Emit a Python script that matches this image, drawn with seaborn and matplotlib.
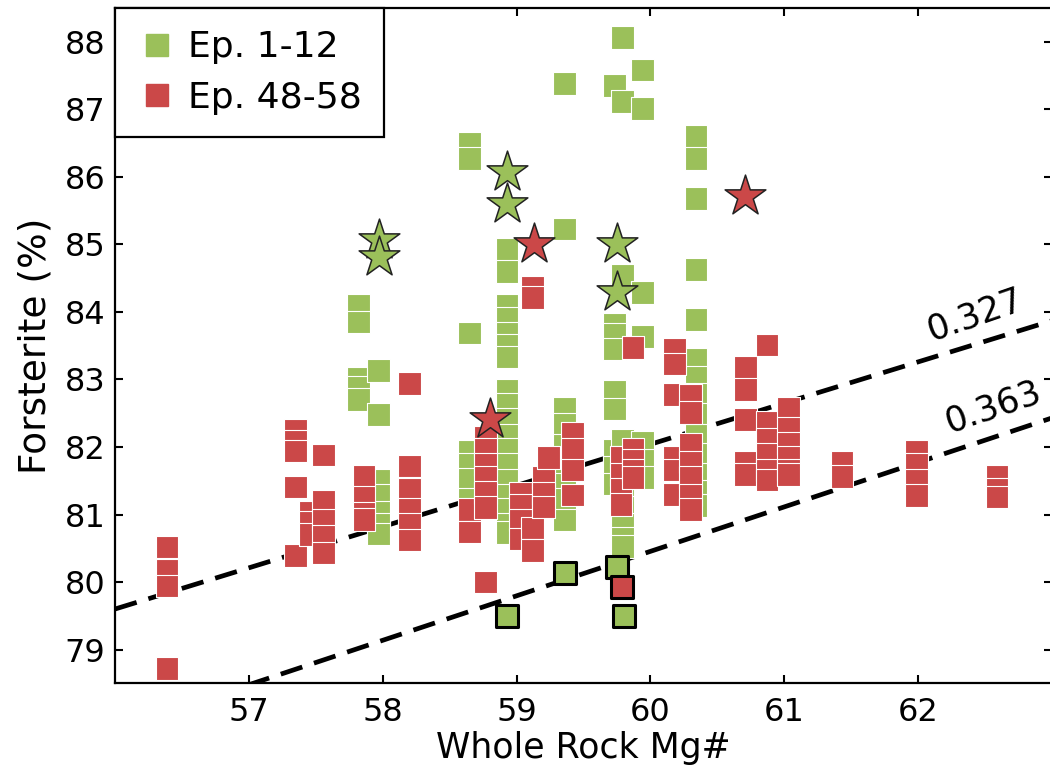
import numpy as np
import pandas as pd
import matplotlib
matplotlib.use("Agg")
import matplotlib.pyplot as plt
from matplotlib.lines import Line2D
import seaborn as sns

# ------------------------------------------------------------
# data
# ------------------------------------------------------------
green_mg = ([57.82] * 5 + [57.97] * 7 + [58.65] * 9 + [58.93] * 18 + [59.36] * 9
            + [59.73] * 9 + [59.79] * 11 + [59.94] * 7 + [60.34] * 14)
green_fo = [84.10, 83.85, 83.02, 82.88, 82.70,
            83.13, 82.48, 81.51, 81.29, 81.04, 80.85, 80.71,
            86.49, 86.27, 83.69, 81.93, 81.74, 81.52, 81.22, 80.99, 80.74,
            84.92, 84.60, 84.10, 83.90, 83.69, 83.51, 83.33, 82.84, 82.63,
            82.41, 82.18, 81.96, 81.74, 81.51, 81.29, 81.07, 80.85, 80.73,
            87.38, 85.23, 82.58, 82.33, 82.03, 81.66, 81.45, 81.22, 80.92,
            87.35, 83.82, 83.67, 83.45, 82.82, 82.56, 81.95, 81.70, 81.45,
            88.06, 87.12, 84.54, 82.10, 81.85, 81.60, 81.35, 81.10, 80.85, 80.65, 80.53,
            87.58, 87.01, 84.29, 83.64, 82.07, 81.81, 81.55,
            86.60, 86.27, 85.68, 84.63, 83.89, 83.30, 83.03, 82.78, 82.48,
            82.18, 81.89, 81.59, 81.34, 81.13]

red_mg = ([56.39] * 4 + [57.35] * 5 + [57.46] * 3 + [57.56] * 5 + [57.86] * 4
          + [58.20] * 6 + [58.65] * 2 + [58.77] * 7 + [59.03] * 4 + [59.12] * 4
          + [59.20] * 3 + [59.24] * 1 + [59.42] * 4 + [59.78] * 4 + [59.87] * 5
          + [60.18] * 6 + [60.30] * 7 + [60.71] * 5 + [60.87] * 6 + [61.03] * 6
          + [61.43] * 2 + [61.99] * 4 + [62.59] * 3)
red_fo = [80.52, 80.18, 79.94, 78.72,
          82.24, 82.08, 81.94, 81.41, 80.39,
          81.04, 80.89, 80.70,
          81.88, 81.19, 80.92, 80.68, 80.43,
          81.56, 81.26, 81.02, 80.93,
          82.94, 81.72, 81.37, 81.07, 80.85, 80.62,
          81.07, 80.74,
          82.14, 81.96, 81.74, 81.55, 81.33, 81.10, 80.00,
          81.32, 81.14, 80.92, 80.64,
          84.37, 84.21, 80.80, 80.47,
          81.55, 81.31, 81.11,
          81.84,
          82.20, 81.96, 81.66, 81.29,
          81.84, 81.59, 81.37, 81.15,
          83.47, 81.96, 81.81, 81.66, 81.55,
          83.45, 83.23, 82.78, 81.84, 81.66, 81.30,
          82.76, 82.51, 82.04, 81.78, 81.55, 81.29, 81.07,
          83.18, 82.85, 82.41, 81.78, 81.59,
          83.51, 82.36, 82.11, 81.89, 81.66, 81.51,
          82.58, 82.27, 82.05, 81.85, 81.66, 81.59,
          81.77, 81.56,
          81.93, 81.74, 81.51, 81.28,
          81.56, 81.37, 81.26]

# starred and outlined analyses
gstar_mg = [57.97, 57.97, 58.93, 58.93, 59.75, 59.75]
gstar_fo = [85.06, 84.81, 86.07, 85.60, 85.01, 84.29]
rstar_mg = [58.80, 59.13, 60.71]
rstar_fo = [82.41, 85.01, 85.72]
gbox_mg = [58.93, 59.36, 59.75, 59.80]
gbox_fo = [79.49, 80.13, 80.22, 79.49]
rbox_mg = [59.79]
rbox_fo = [79.92]

# equilibrium lines (Kd label, end points)
kd_labels = ["0.327", "0.363"]
kd_mg = [56, 63]
kd_fo = [[79.60, 83.87], [77.82, 82.43]]

green = "#9BC05A"
red = "#CB4848"

# ------------------------------------------------------------
# plot
# ------------------------------------------------------------
sns.set_theme(style="ticks")
plt.rcParams["font.family"] = ["DejaVu Sans"]
plt.rcParams["text.color"] = "black"
plt.rcParams["axes.labelcolor"] = "black"

fig = plt.figure(figsize=(10.5, 7.73), dpi=100)
ax = fig.add_axes([0.1095, 0.116, 0.8924, 0.8736])

for fo, lab in zip(kd_fo, kd_labels):
    ax.plot(kd_mg, fo, color="black", lw=3.4, dashes=(4.8, 2.6), zorder=1)

sq = pd.DataFrame({
    "mg": green_mg + red_mg,
    "fo": green_fo + red_fo,
    "grp": ["Ep. 1-12"] * len(green_mg) + ["Ep. 48-58"] * len(red_mg),
})
sns.scatterplot(data=sq, x="mg", y="fo", hue="grp",
                palette={"Ep. 1-12": green, "Ep. 48-58": red},
                marker="s", s=265, edgecolor="white", linewidth=0.8,
                legend=False, ax=ax, zorder=2)

sns.scatterplot(x=gbox_mg, y=gbox_fo, color=green, marker="s", s=250,
                edgecolor="black", linewidth=2.2, ax=ax, zorder=3)
sns.scatterplot(x=rbox_mg, y=rbox_fo, color=red, marker="s", s=250,
                edgecolor="black", linewidth=2.2, ax=ax, zorder=3)
sns.scatterplot(x=gstar_mg, y=gstar_fo, color=green, marker="*", s=950,
                edgecolor="#222222", linewidth=1.1, ax=ax, zorder=4)
sns.scatterplot(x=rstar_mg, y=rstar_fo, color=red, marker="*", s=950,
                edgecolor="#222222", linewidth=1.1, ax=ax, zorder=4)

ax.text(62.43, 83.95, kd_labels[0], fontsize=25, rotation=19,
        ha="center", va="center", rotation_mode="anchor")
ax.text(62.56, 82.60, kd_labels[1], fontsize=25, rotation=19,
        ha="center", va="center", rotation_mode="anchor")

ax.set_xlim(56, 63)
ax.set_ylim(78.5, 88.5)
ax.set_xticks(range(57, 63))
ax.set_yticks(range(79, 89))
ax.tick_params(direction="in", length=6, width=1.5, labelsize=23,
               top=True, right=True, pad=7, colors="black")
ax.tick_params(axis="x", pad=10)
for sp in ax.spines.values():
    sp.set_linewidth(1.6)
    sp.set_color("black")
ax.set_xlabel("Whole Rock Mg#", fontsize=25, labelpad=2)
ax.set_ylabel("Forsterite (%)", fontsize=27, labelpad=8)

handles = [Line2D([], [], marker="s", ls="", color=green, markersize=16),
           Line2D([], [], marker="s", ls="", color=red, markersize=16)]
leg = ax.legend(handles, ["Ep. 1-12", "Ep. 48-58"], loc="upper left",
                fontsize=26, frameon=True, fancybox=False, framealpha=1,
                edgecolor="black", borderaxespad=0, handletextpad=0.3,
                handlelength=1.1, borderpad=0.62, labelspacing=0.45)
leg.get_frame().set_linewidth(1.6)

fig.savefig("out.png", dpi=100)
